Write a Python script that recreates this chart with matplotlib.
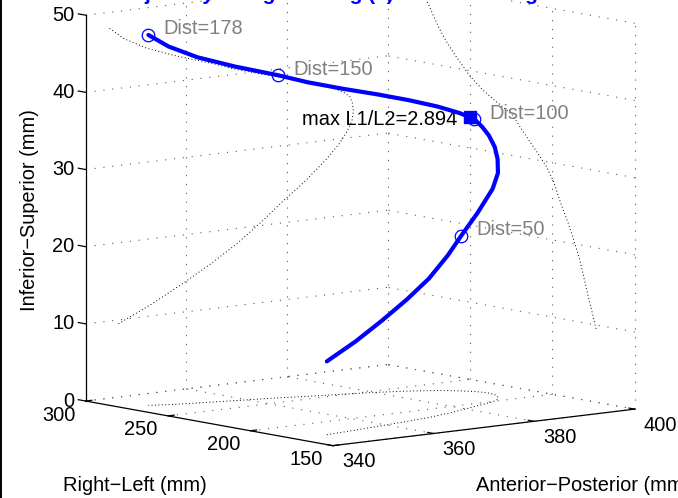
import matplotlib
matplotlib.use("Agg")
import matplotlib.pyplot as plt
import numpy as np
from matplotlib.lines import Line2D
from matplotlib.transforms import offset_copy
from mpl_toolkits.mplot3d import proj3d

plt.rcParams['font.family'] = ['Liberation Sans', 'DejaVu Sans']

# fiber trajectory (mm) and distance along it
ap = [346.5, 353.0, 359.0, 364.8, 370.0, 375.0, 378.8, 383.5, 387.9, 390.3, 391.9, 392.9, 393.2,
      393.0, 392.5, 391.2, 388.8, 385.0, 380.5, 375.0, 369.5, 365.0, 358.0, 352.0, 347.5, 344.6]
rl = [173.5, 175.8, 178.3, 180.8, 183.3, 187.0, 190.5, 195.0, 199.3, 203.4, 208.5, 213.3, 217.8,
      221.3, 224.5, 229.5, 235.5, 241.5, 246.5, 251.2, 255.3, 259.5, 264.5, 268.8, 272.5, 276.0]
inf_sup = [9.5, 11.5, 13.6, 15.8, 18.0, 20.5, 22.6, 25.0, 27.6, 29.3, 30.8, 32.1, 33.4,
           34.4, 35.3, 36.0, 36.8, 37.7, 38.6, 39.6, 40.7, 41.8, 43.3, 44.8, 46.4, 48.0]
dist = [0, 8, 16, 24, 32, 41, 50, 59, 68, 74, 80, 86, 91,
        95.5, 100, 105, 111, 118, 125, 133, 141, 150, 158, 165, 171.5, 178]

dist_marks = [50, 100, 150, 178]
max_ratio = 2.894
max_ratio_dist = 101.5

ap_ticks = [340, 360, 380, 400]
rl_ticks = [150, 200, 250, 300]
is_ticks = [0, 10, 20, 30, 40, 50]
ap_lim = (340, 400)
rl_lim = (150, 300)
is_lim = (0, 50)

title = "Fiber tract trajectory along tracking (3) with L1/L2 eigenvalue ratio"

W, H = 678, 498
fig = plt.figure(figsize=(W / 100, H / 100), dpi=100)
ax = fig.add_axes([0, 0, 1, 1], projection='3d', proj_type='ortho')
ax.view_init(elev=8.5, azim=-129.3)
ax.set_xlim(*ap_lim)
ax.set_ylim(*rl_lim)
ax.set_zlim(*is_lim)
ax.set_box_aspect((1, 1, 1))
ax.set_axis_off()
ax.computed_zorder = False


def to_px(x, y, z):
    xs, ys, _ = proj3d.proj_transform(x, y, z, ax.get_proj())
    return ax.transData.transform((xs, ys))


# scale the axes so the box corners land where they should
fig.canvas.draw()
corners = [(340, 150, 0), (340, 300, 0), (400, 150, 0), (340, 300, 50)]
want = np.array([(333, H - 445), (85, H - 402), (636, H - 407), (85, H - 17)], float)
got = np.array([to_px(*c) for c in corners])
gm, wm = got.mean(0), want.mean(0)
s = ((got - gm) * (want - wm)).sum() / ((got - gm) ** 2).sum()
t = wm - s * gm
ax.set_position([t[0] / W, t[1] / H, s, s])

grid_kw = dict(color='0.35', lw=0.8, ls=(0, (1, 7)), zorder=1)
x0, x1 = ap_lim
y0, y1 = rl_lim
z0, z1 = is_lim
for zt in is_ticks:
    ax.plot([x0, x1], [y1, y1], [zt, zt], **grid_kw)
    ax.plot([x1, x1], [y0, y1], [zt, zt], **grid_kw)
for xt in ap_ticks[1:]:
    ax.plot([xt, xt], [y1, y1], [z0, z1], **grid_kw)
    ax.plot([xt, xt], [y0, y1], [z0, z0], **grid_kw)
for yt in rl_ticks[:-1]:
    ax.plot([x1, x1], [yt, yt], [z0, z1], **grid_kw)
    ax.plot([x0, x1], [yt, yt], [z0, z0], **grid_kw)
ax.plot([x0, x1], [y1, y1], [z0, z0], **grid_kw)

# axis lines and ticks
ax_kw = dict(color='k', lw=0.9, zorder=2)
ax.plot([x0, x0], [y1, y1], [z0, z1], **ax_kw)
ax.plot([x0, x0], [y0, y1], [z0, z0], **ax_kw)
ax.plot([x0, x1], [y0, y0], [z0, z0], **ax_kw)
for zt in is_ticks:
    ax.plot([x0, x0], [y1, y1 + 4.5], [zt, zt], **ax_kw)
for yt in rl_ticks:
    ax.plot([x0, x0 + 1.2], [yt, yt], [z0, z0], **ax_kw)
for xt in ap_ticks:
    ax.plot([xt, xt], [y0, y0 + 3.5], [z0, z0], **ax_kw)


def text3d(x, y, z, s, dx, dy, **kw):
    tr = offset_copy(ax.transData, fig=fig, x=dx, y=dy, units='dots')
    ax.text(x, y, z, s, transform=tr, **kw)


fs = 14.4
for zt in is_ticks:
    text3d(x0, y1, zt, str(zt), -11, 0, ha='right', va='center', fontsize=fs)
for yt in rl_ticks:
    text3d(x0, yt, z0, str(yt), -27, -14, ha='center', va='center', fontsize=fs)
for xt in ap_ticks:
    text3d(xt, y0, z0, str(xt), 26, -16, ha='center', va='center', fontsize=fs)

# shadows of the trajectory on the walls and floor
n = len(ap)
shadow_kw = dict(color='k', lw=0.7, ls=(0, (1, 2.5)), zorder=3)
ax.plot(ap, rl, np.full(n, z0), **shadow_kw)
ax.plot(ap, np.full(n, y1), inf_sup, **shadow_kw)
ax.plot(np.full(n, x1), rl, inf_sup, **shadow_kw)

# trajectory
ax.plot(ap, rl, inf_sup, color='#0000ff', lw=3.0, solid_capstyle='round',
        solid_joinstyle='round', zorder=5)

mx = np.interp(dist_marks, dist, ap)
my = np.interp(dist_marks, dist, rl)
mz = np.interp(dist_marks, dist, inf_sup)
ax.plot(mx, my, mz, 'o', ms=9, mfc='none', mec='#0000ff', mew=0.9, zorder=6)
for x, y, z, d in zip(mx, my, mz, dist_marks):
    text3d(x, y, z, f"Dist={d}", 15, 6, ha='left', va='center', fontsize=fs,
           color='#808080')

sx = np.interp(max_ratio_dist, dist, ap)
sy = np.interp(max_ratio_dist, dist, rl)
sz = np.interp(max_ratio_dist, dist, inf_sup)
ax.plot([sx], [sy], [sz], 's', ms=8, color='#0000ff', zorder=7)
text3d(sx, sy, sz, f"max L1/L2={max_ratio:.3f}", -12, -2, ha='right', va='center',
       fontsize=fs, color='k')

fig.text(30 / W, 1 - 210 / H, "Inferior\u2212Superior (mm)", rotation=90,
         ha='center', va='center', fontsize=fs)
fig.text(135 / W, 1 - 485 / H, "Right\u2212Left (mm)", ha='center', va='center',
         fontsize=fs)
fig.text(476 / W, 1 - 485 / H, "Anterior\u2212Posterior (mm)", ha='left',
         va='center', fontsize=fs)
# title sits mostly above the top edge
fig.text(0.5, 1.0, title, ha='center', va='baseline', fontsize=15,
         fontweight='bold', color='#0000ff')
fig.add_artist(Line2D([1 / W, 1 / W], [0, 1], color='k', lw=1.4,
                      transform=fig.transFigure))

fig.savefig("out.png", dpi=100)
